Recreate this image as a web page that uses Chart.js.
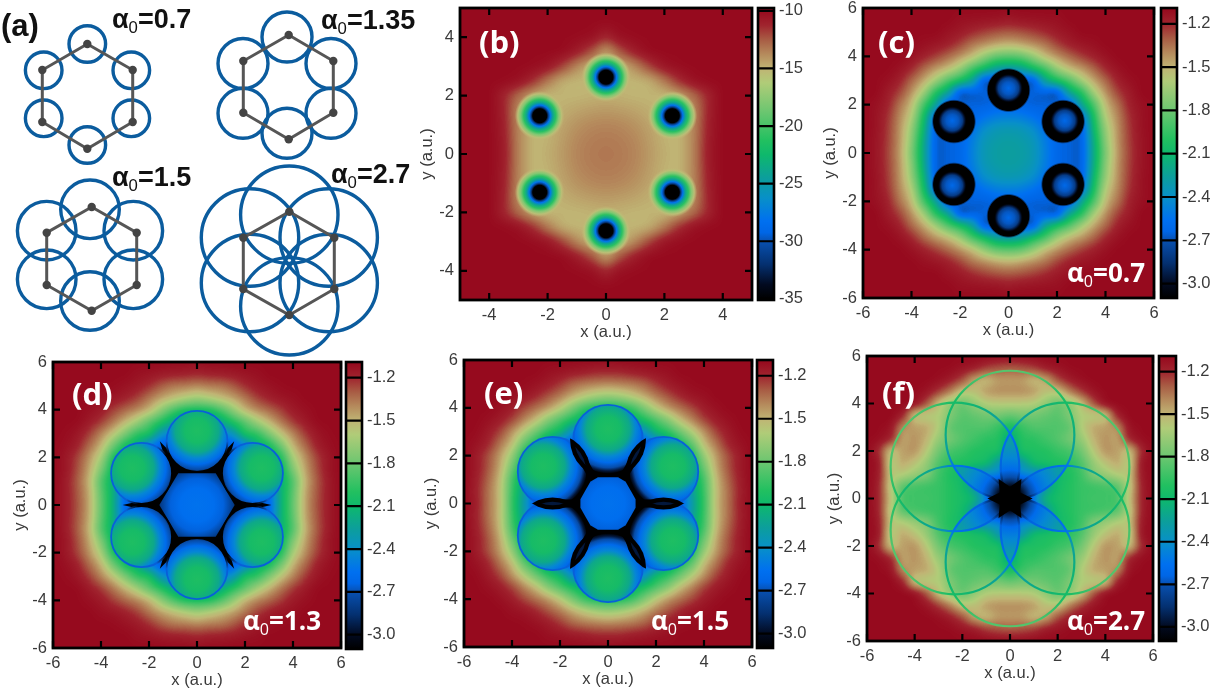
<!DOCTYPE html>
<html>
<head>
<meta charset="utf-8">
<script src="https://cdn.jsdelivr.net/npm/chart.js@4/dist/chart.umd.min.js"></script>
<style>
  body { margin: 0; background: #fff; width: 1214px; height: 688px; position: relative; overflow: hidden; }
  canvas { position: absolute; filter: blur(0.35px); }
  .tag { position: absolute; font-weight: bold; transform: translateY(-50%); white-space: nowrap; line-height: 1; z-index: 5; }
  .tag sub { font-size: 62%; font-weight: normal; vertical-align: -0.3em; line-height: 0; }
  .ink { color: #111; font-family: "Liberation Sans"; font-size: 27px; }
  .white { color: #fff; font-family: "Open Sans"; font-size: 26px; }
  .letter { font-family: "Open Sans"; font-size: 31px; }
</style>
</head>
<body>
<div class="tag ink" style="left:1px;top:25px;font-size:31px">(a)</div>
<div class="tag ink" style="left:112px;top:19px">α<sub>0</sub>=0.7</div>
<div class="tag ink" style="left:321px;top:20px">α<sub>0</sub>=1.35</div>
<div class="tag ink" style="left:112px;top:177px">α<sub>0</sub>=1.5</div>
<div class="tag ink" style="left:331px;top:174px">α<sub>0</sub>=2.7</div>
<div class="tag white letter" style="left:479px;top:41px">(b)</div>
<div class="tag white letter" style="left:878px;top:41px">(c)</div>
<div class="tag white letter" style="left:72px;top:393px">(d)</div>
<div class="tag white letter" style="left:484px;top:392px">(e)</div>
<div class="tag white letter" style="left:882px;top:392px">(f)</div>
<div class="tag white" style="left:1067px;top:272px">α<sub>0</sub>=0.7</div>
<div class="tag white" style="left:243px;top:620px">α<sub>0</sub>=1.3</div>
<div class="tag white" style="left:651px;top:620px">α<sub>0</sub>=1.5</div>
<div class="tag white" style="left:1067px;top:620px">α<sub>0</sub>=2.7</div>
<script>
// colour bar stops, bottom to top
const mapT = [0, 0.05, 0.12, 0.2, 0.23, 0.27, 0.35, 0.42, 0.5, 0.55, 0.65, 0.75, 0.8, 0.85, 0.9, 0.95, 1];
const mapC = ["#000000", "#020a20", "#043070", "#0850b0", "#0066e6", "#0070f0", "#0890c8", "#0c9e9c", "#0eb86c", "#22c060",
  "#6cc670", "#b0cc78", "#c0b474", "#b58a5c", "#a85c44", "#a0242e", "#960a1e"];

const potentialTicks = [-3, -2.7, -2.4, -2.1, -1.8, -1.5, -1.2];
const totalTicks = [-35, -30, -25, -20, -15, -10];
const axisTicksB = [-4, -2, 0, 2, 4];
const axisTicks = [-6, -4, -2, 0, 2, 4, 6];

// panel (a): drawn in diagram units
const atomX = [
  [87.3, 132.7, 132.7, 87.3, 42.3, 42.3],
  [288.7, 333.3, 333.3, 288.7, 243.3, 243.3],
  [91.7, 136.7, 136.7, 91.7, 46.7, 46.7],
  [289.3, 334.3, 334.3, 289.3, 243.3, 243.3]];
const atomY = [
  [44, 70, 122, 148.7, 122, 70],
  [35, 61, 112.7, 139.3, 112.7, 61],
  [207, 232.7, 285, 310.7, 285, 232.7],
  [211.7, 237.7, 289, 315, 289, 237.7]];
const orbitX = [
  [87.3, 131.3, 131.3, 87.3, 43.7, 43.7],
  [287, 331, 331, 287, 243, 243],
  [90, 133.3, 133.3, 90, 46.7, 46.7],
  [289.3, 328.7, 328.7, 289.3, 250, 250]];
const orbitY = [
  [44, 70.3, 118.3, 145, 118.3, 70.3],
  [37, 63.5, 113.3, 133.3, 113.3, 63.5],
  [209.3, 230.7, 279.3, 301, 279.3, 230.7],
  [214.7, 237.5, 283, 306.3, 283, 237.5]];
const orbitR = [18.3, 25, 29.3, 48.7];

// quadrants x = 0, 0.5, ... and y = 0, 0.5, ... (rows go upward), picture is mirror symmetric
const fieldB = [
  [-13.2, -13.3, -13.6, -14.2, -14.8, -15, -13.5, -10.9, -10, -10, -10],
  [-13.3, -13.4, -13.7, -14.3, -14.9, -15, -13.5, -11, -10, -10, -10],
  [-13.6, -13.7, -14, -14.5, -15, -15, -13.6, -11.1, -10, -10, -10],
  [-14.2, -14.3, -14.5, -14.8, -15, -15, -13.7, -11.2, -10, -10, -10],
  [-14.8, -14.9, -15, -15, -15, -14.3, -12.8, -11.2, -10, -10, -10],
  [-15, -15, -15, -14.6, -13.2, -11.6, -10.5, -10.1, -10, -10, -10],
  [-15, -14.8, -13.6, -12, -10.7, -10.2, -10, -10, -10, -10, -10],
  [-14.1, -12.4, -11, -10.2, -10, -10, -10, -10, -10, -10, -10],
  [-11.3, -10.4, -10.05, -10, -10, -10, -10, -10, -10, -10, -10],
  [-10.1, -10, -10, -10, -10, -10, -10, -10, -10, -10, -10],
  [-10, -10, -10, -10, -10, -10, -10, -10, -10, -10, -10]];
const fieldC = [
  [-2.27, -2.28, -2.33, -2.48, -2.62, -2.65, -2.65, -2.2, -1.75, -1.43, -1.25, -1.14, -1.1],
  [-2.28, -2.29, -2.35, -2.5, -2.63, -2.65, -2.65, -2.18, -1.72, -1.42, -1.24, -1.14, -1.1],
  [-2.33, -2.35, -2.42, -2.55, -2.65, -2.65, -2.65, -2.12, -1.68, -1.41, -1.23, -1.13, -1.1],
  [-2.48, -2.5, -2.55, -2.62, -2.65, -2.65, -2.55, -2.05, -1.6, -1.39, -1.22, -1.13, -1.1],
  [-2.62, -2.63, -2.65, -2.65, -2.65, -2.65, -2.25, -1.9, -1.52, -1.34, -1.19, -1.12, -1.1],
  [-2.65, -2.65, -2.65, -2.65, -2.65, -2.25, -2, -1.66, -1.42, -1.26, -1.16, -1.1, -1.1],
  [-2.65, -2.65, -2.65, -2.25, -2.05, -1.88, -1.66, -1.47, -1.32, -1.19, -1.12, -1.1, -1.1],
  [-2.3, -2.25, -2.08, -1.9, -1.67, -1.52, -1.43, -1.32, -1.2, -1.13, -1.1, -1.1, -1.1],
  [-1.85, -1.82, -1.7, -1.53, -1.42, -1.33, -1.25, -1.19, -1.13, -1.1, -1.1, -1.1, -1.1],
  [-1.5, -1.47, -1.41, -1.35, -1.26, -1.19, -1.15, -1.12, -1.1, -1.1, -1.1, -1.1, -1.1],
  [-1.3, -1.28, -1.25, -1.21, -1.16, -1.13, -1.1, -1.1, -1.1, -1.1, -1.1, -1.1, -1.1],
  [-1.16, -1.15, -1.14, -1.13, -1.12, -1.1, -1.1, -1.1, -1.1, -1.1, -1.1, -1.1, -1.1],
  [-1.11, -1.1, -1.1, -1.1, -1.1, -1.1, -1.1, -1.1, -1.1, -1.1, -1.1, -1.1, -1.1]];
const fieldD = [
  [-2.55, -2.56, -2.6, -2.65, -2.65, -2.65, -2.62, -2.15, -1.82, -1.47, -1.28, -1.16, -1.1],
  [-2.56, -2.57, -2.6, -2.65, -2.65, -2.65, -2.6, -2.15, -1.84, -1.48, -1.29, -1.16, -1.1],
  [-2.6, -2.6, -2.62, -2.65, -2.65, -2.65, -2.58, -2.15, -1.86, -1.5, -1.3, -1.16, -1.1],
  [-2.65, -2.65, -2.65, -2.65, -2.65, -2.65, -2.45, -2.1, -1.75, -1.46, -1.27, -1.15, -1.1],
  [-2.65, -2.65, -2.65, -2.65, -2.65, -2.55, -2.2, -2, -1.63, -1.41, -1.25, -1.15, -1.1],
  [-2.65, -2.65, -2.65, -2.65, -2.45, -2.2, -2.03, -1.78, -1.5, -1.33, -1.19, -1.12, -1.1],
  [-2.65, -2.65, -2.5, -2.35, -2.05, -1.95, -1.75, -1.55, -1.38, -1.24, -1.15, -1.11, -1.1],
  [-2.6, -2.45, -2.2, -2, -1.83, -1.65, -1.5, -1.36, -1.24, -1.16, -1.11, -1.1, -1.1],
  [-2.03, -2, -1.88, -1.7, -1.51, -1.4, -1.32, -1.24, -1.16, -1.12, -1.1, -1.1, -1.1],
  [-1.65, -1.6, -1.53, -1.45, -1.35, -1.25, -1.19, -1.15, -1.12, -1.1, -1.1, -1.1, -1.1],
  [-1.39, -1.37, -1.35, -1.3, -1.22, -1.16, -1.13, -1.11, -1.1, -1.1, -1.1, -1.1, -1.1],
  [-1.2, -1.19, -1.18, -1.16, -1.14, -1.12, -1.1, -1.1, -1.1, -1.1, -1.1, -1.1, -1.1],
  [-1.12, -1.11, -1.11, -1.1, -1.1, -1.1, -1.1, -1.1, -1.1, -1.1, -1.1, -1.1, -1.1]];
const fieldE = [
  [-2.55, -2.56, -2.6, -2.65, -2.65, -2.65, -2.65, -2.3, -1.95, -1.53, -1.34, -1.18, -1.11],
  [-2.56, -2.57, -2.6, -2.65, -2.65, -2.65, -2.65, -2.28, -1.93, -1.54, -1.34, -1.19, -1.11],
  [-2.6, -2.6, -2.62, -2.65, -2.65, -2.65, -2.6, -2.22, -1.9, -1.52, -1.32, -1.18, -1.1],
  [-2.65, -2.65, -2.65, -2.65, -2.65, -2.65, -2.5, -2.12, -1.8, -1.48, -1.29, -1.16, -1.1],
  [-2.65, -2.65, -2.65, -2.65, -2.65, -2.6, -2.3, -2.03, -1.68, -1.44, -1.27, -1.16, -1.1],
  [-2.65, -2.65, -2.65, -2.65, -2.55, -2.28, -2.05, -1.83, -1.53, -1.35, -1.2, -1.13, -1.1],
  [-2.65, -2.65, -2.55, -2.4, -2.12, -1.98, -1.8, -1.6, -1.41, -1.26, -1.16, -1.11, -1.1],
  [-2.6, -2.45, -2.2, -2.03, -1.88, -1.72, -1.53, -1.39, -1.26, -1.17, -1.12, -1.1, -1.1],
  [-2.05, -2.02, -1.92, -1.75, -1.57, -1.44, -1.34, -1.26, -1.17, -1.12, -1.1, -1.1, -1.1],
  [-1.67, -1.64, -1.57, -1.48, -1.37, -1.28, -1.2, -1.15, -1.12, -1.1, -1.1, -1.1, -1.1],
  [-1.4, -1.38, -1.36, -1.31, -1.23, -1.17, -1.13, -1.11, -1.1, -1.1, -1.1, -1.1, -1.1],
  [-1.2, -1.2, -1.18, -1.16, -1.14, -1.12, -1.1, -1.1, -1.1, -1.1, -1.1, -1.1, -1.1],
  [-1.12, -1.11, -1.11, -1.1, -1.1, -1.1, -1.1, -1.1, -1.1, -1.1, -1.1, -1.1, -1.1]];
const fieldF = [
  [-3.1, -3.1, -2.5, -2.15, -2.05, -2, -1.95, -1.92, -1.92, -1.9, -1.55, -1.2, -1.1],
  [-3, -3, -2.7, -2.3, -2.08, -2, -1.95, -1.92, -1.9, -1.85, -1.58, -1.2, -1.1],
  [-2.7, -2.5, -2.45, -2.35, -2.1, -2.02, -1.92, -1.75, -1.68, -1.6, -1.55, -1.18, -1.1],
  [-2.45, -2.3, -2.1, -2.05, -2.02, -1.98, -1.88, -1.68, -1.55, -1.48, -1.58, -1.17, -1.1],
  [-2.3, -2.05, -2.02, -2, -1.95, -1.9, -1.78, -1.58, -1.43, -1.45, -1.52, -1.22, -1.1],
  [-2.2, -2, -1.98, -1.92, -1.87, -1.78, -1.68, -1.5, -1.42, -1.45, -1.22, -1.12, -1.1],
  [-2.05, -1.95, -1.88, -1.88, -1.88, -1.82, -1.6, -1.48, -1.45, -1.4, -1.15, -1.1, -1.1],
  [-1.82, -1.78, -1.78, -1.82, -1.85, -1.75, -1.6, -1.58, -1.52, -1.2, -1.1, -1.1, -1.1],
  [-1.58, -1.58, -1.6, -1.7, -1.8, -1.7, -1.52, -1.3, -1.15, -1.1, -1.1, -1.1, -1.1],
  [-1.42, -1.42, -1.45, -1.55, -1.55, -1.38, -1.25, -1.15, -1.1, -1.1, -1.1, -1.1, -1.1],
  [-1.43, -1.44, -1.5, -1.45, -1.28, -1.18, -1.12, -1.1, -1.1, -1.1, -1.1, -1.1, -1.1],
  [-1.3, -1.28, -1.25, -1.18, -1.14, -1.11, -1.1, -1.1, -1.1, -1.1, -1.1, -1.1, -1.1],
  [-1.13, -1.12, -1.11, -1.1, -1.1, -1.1, -1.1, -1.1, -1.1, -1.1, -1.1, -1.1, -1.1]];

// atom wells, panel (b)
const wellBX = [0, 2.27, 2.27, 0, -2.27, -2.27];
const wellBY = [2.63, 1.31, -1.31, -2.63, -1.31, 1.31];
const wellRadius = [0, 0.24, 0.3, 0.36, 0.45, 0.55, 0.65, 0.75, 0.85];
const wellValue = [-35, -35, -31, -28, -24, -21, -18, -15.5, -15];

// panel (c): black shell and the blue core inside it
const shellCX = [0, 2.25, 2.25, 0, -2.25, -2.25];
const shellCY = [2.6, 1.3, -1.3, -2.6, -1.3, 1.3];
const coreCX = [0, 2.32, 2.32, 0, -2.32, -2.32];
const coreCY = [2.68, 1.34, -1.34, -2.68, -1.34, 1.34];
const coreR = [0, 0.25, 0.42, 0.52, 0.6];
const coreV = [-2.62, -2.68, -2.8, -2.98, -3.1];

// panels (d), (e), (f): orbit centres, black web under the discs, central hexagon
const discX = [0, 2.31, 2.31, 0, -2.31, -2.31];
const discY = [2.67, 1.33, -1.33, -2.67, -1.33, 1.33];
const webDX = [3.1, 2.55, 2.3, 1.73, 1.32, 1.39, 1.55, 1.16, 0.98, 0];
const webDY = [0, 0.13, 0.2, 1, 1.89, 2.14, 2.68, 2.27, 2.09, 2];
const webEX = [2.7, 2.3, 1.73, 1.2, 1.35, 1.05, 0];
const webEY = [0, 0.2, 1, 2.05, 2.34, 2.1, 2];
const hexDX = [1.57, 0.78, -0.78, -1.57, -0.78, 0.78];
const hexDY = [0, 1.33, 1.33, 0, -1.33, -1.33];
const hexEX = [1.25, 0.63, -0.63, -1.25, -0.63, 0.63];
const hexEY = [0, 1.1, 1.1, 0, -1.1, -1.1];
const hexR = [0, 0.7, 1.1, 1.6];
const hexV = [-2.55, -2.58, -2.65, -2.85];
const spokeEX = [[1.15, 2.6], [0.58, 1.3], [-0.58, -1.3], [-1.15, -2.6], [-0.58, -1.3], [0.58, 1.3]];
const spokeEY = [[0, 0], [1, 2.25], [1, 2.25], [0, 0], [-1, -2.25], [-1, -2.25]];
const discProfileR = [0, 0.5, 0.9, 1.15, 1.4, 1.62, 1.75, 1.85];
const discProfileV = [-2.02, -2.06, -2.2, -2.45, -2.6, -2.72, -2.95, -3.08];
const starX = [0.95, 0.43, 0.48, 0, -0.48, -0.43, -0.95, -0.43, -0.48, 0, 0.48, 0.43];
const starY = [0, 0.25, 0.82, 0.5, 0.82, 0.25, 0, -0.25, -0.82, -0.5, -0.82, -0.25];
const petalR = [0, 0.5, 0.9, 1.2, 1.7, 2.3, 2.8];
const petalV = [-3.1, -3.05, -2.72, -2.6, -2.45, -2.3, -2.25];
const ringFR = [0, 0.8, 1.2, 2.7, 3.2, 4, 4.7, 5.4];
const ringFV = [-3.1, -2.9, -2.65, -2.55, -2.3, -2.15, -2.05, -1.85];

const potRange = [-3.1, -1.1];
const totRange = [-35, -10];
const tickFont = { family: "Liberation Sans", size: 16.5 };
const textColor = "#3a3a3a";

function hexRgb(h) { return [1, 3, 5].map(i => parseInt(h.slice(i, i + 2), 16)); }
const mapRgb = mapC.map(hexRgb);
function rgbAt(t) {
  t = Math.min(1, Math.max(0, t));
  let i = 0;
  while (i < mapT.length - 2 && t > mapT[i + 1]) i++;
  const f = (t - mapT[i]) / (mapT[i + 1] - mapT[i]);
  return mapRgb[i].map((c, k) => Math.round(c + (mapRgb[i + 1][k] - c) * f));
}
function colorOf(v, range, alpha) {
  const c = rgbAt((v - range[0]) / (range[1] - range[0]));
  return "rgba(" + c.join(",") + "," + (alpha === undefined ? 1 : alpha) + ")";
}
const ppu = chart => chart.scales.x.getPixelForValue(1) - chart.scales.x.getPixelForValue(0);
const px = (chart, p) => ({ x: chart.scales.x.getPixelForValue(p.x), y: chart.scales.y.getPixelForValue(p.y) });

// radial gradient from a list of radii (a.u.) and values
function radial(chart, c, rs, vs, range, fade) {
  const R = rs[rs.length - 1] * ppu(chart);
  const g = chart.ctx.createRadialGradient(c.x, c.y, 0, c.x, c.y, R);
  rs.forEach((r, i) => {
    const a = fade && i === rs.length - 1 ? 0 : 1;
    g.addColorStop(r / rs[rs.length - 1], colorOf(vs[i], range, a));
  });
  return g;
}

function mirrorCells(q, step) {
  const cells = [], n = q.length - 1;
  for (let j = -n; j <= n; j++)
    for (let i = -n; i <= n; i++)
      cells.push({ x: i * step, y: j * step, v: q[Math.abs(j)][Math.abs(i)] });
  return cells;
}

function drawHeat(chart, cells, range) {
  const a = chart.chartArea, n = Math.round(Math.sqrt(cells.length));
  const step = cells[1].x - cells[0].x;
  const small = document.createElement("canvas");
  small.width = small.height = n;
  const sc = small.getContext("2d");
  const img = sc.createImageData(n, n);
  cells.forEach((c, k) => {
    const col = k % n, row = n - 1 - Math.floor(k / n);
    const g = Math.round(255 * (c.v - range[0]) / (range[1] - range[0]));
    const o = (row * n + col) * 4;
    img.data[o] = img.data[o + 1] = img.data[o + 2] = Math.max(0, Math.min(255, g));
    img.data[o + 3] = 255;
  });
  sc.putImageData(img, 0, 0);
  const first = px(chart, { x: cells[0].x - step / 2, y: cells[n * n - 1].y + step / 2 });
  const last = px(chart, { x: cells[n - 1].x + step / 2, y: cells[0].y - step / 2 });
  const W = Math.ceil(a.right - a.left), H = Math.ceil(a.bottom - a.top);
  const big = document.createElement("canvas");
  big.width = W; big.height = H;
  const bc = big.getContext("2d");
  bc.imageSmoothingEnabled = true;
  bc.imageSmoothingQuality = "high";
  bc.drawImage(small, first.x - a.left, first.y - a.top, last.x - first.x, last.y - first.y);
  const out = bc.getImageData(0, 0, W, H);
  for (let i = 0; i < out.data.length; i += 4) {
    const c = rgbAt(out.data[i] / 255);
    out.data[i] = c[0]; out.data[i + 1] = c[1]; out.data[i + 2] = c[2]; out.data[i + 3] = 255;
  }
  bc.putImageData(out, 0, 0);
  chart.ctx.drawImage(big, a.left, a.top);
}

function lens(chart, p, q, r, fill) {
  const ctx = chart.ctx, R = r * ppu(chart), A = px(chart, p), B = px(chart, q);
  ctx.save();
  ctx.beginPath(); ctx.arc(A.x, A.y, R, 0, 7); ctx.clip();
  ctx.beginPath(); ctx.arc(B.x, B.y, R, 0, 7); ctx.clip();
  ctx.fillStyle = fill;
  ctx.fillRect(chart.chartArea.left, chart.chartArea.top, chart.width, chart.height);
  ctx.restore();
}

function polygon(chart, xs, ys, fill) {
  const ctx = chart.ctx;
  ctx.fillStyle = fill;
  ctx.beginPath();
  xs.forEach((x, i) => { const p = px(chart, { x: x, y: ys[i] }); ctx.lineTo(p.x, p.y); });
  ctx.closePath();
  ctx.fill();
}

// outline given for the first quadrant, from the +x axis round to the +y axis
function webPolygon(chart, qx, qy, fill) {
  const n = qx.length, rx = [], ry = [];
  for (let i = 0; i < n; i++) { rx.push(qx[i]); ry.push(qy[i]); }
  for (let i = n - 2; i >= 0; i--) { rx.push(-qx[i]); ry.push(qy[i]); }
  for (let i = 1; i < n; i++) { rx.push(-qx[i]); ry.push(-qy[i]); }
  for (let i = n - 2; i > 0; i--) { rx.push(qx[i]); ry.push(-qy[i]); }
  polygon(chart, rx, ry, fill);
}

function panelPlugin(range, ticksAll, under, over) {
  return {
    id: "panel",
    beforeDatasetsDraw(chart) {
      const a = chart.chartArea, ctx = chart.ctx;
      ctx.save();
      ctx.beginPath(); ctx.rect(a.left, a.top, a.right - a.left, a.bottom - a.top); ctx.clip();
      drawHeat(chart, chart.data.datasets.find(d => d.heat).data, range);
      if (under) under(chart);
      ctx.restore();
    },
    afterDatasetsDraw(chart) {
      const a = chart.chartArea, ctx = chart.ctx;
      ctx.save();
      ctx.beginPath(); ctx.rect(a.left, a.top, a.right - a.left, a.bottom - a.top); ctx.clip();
      if (over) over(chart);
      ctx.restore();
      ctx.save();
      ctx.strokeStyle = "#000";
      ctx.lineWidth = 2.2;
      ctx.beginPath();
      ticksAll.forEach(v => {
        const x = chart.scales.x.getPixelForValue(v), y = chart.scales.y.getPixelForValue(v);
        ctx.moveTo(x, a.bottom); ctx.lineTo(x, a.bottom - 7);
        ctx.moveTo(x, a.top); ctx.lineTo(x, a.top + 7);
        ctx.moveTo(a.left, y); ctx.lineTo(a.left + 7, y);
        ctx.moveTo(a.right, y); ctx.lineTo(a.right - 7, y);
      });
      ctx.stroke();
      ctx.lineWidth = 2.8;
      ctx.strokeRect(a.left, a.top, a.right - a.left, a.bottom - a.top);
      ctx.restore();
    }
  };
}

// the controller asks for these options once before layout, when the scales have no size yet
const ready = c => c.raw && c.chart.chartArea;
function circleSet(xs, ys, r, fill, stroke, width) {
  const size = c => (c.chart.chartArea ? r * ppu(c.chart) : 0);
  return {
    data: xs.map((x, i) => ({ x: x, y: ys[i] })),
    pointRadius: size,
    pointHoverRadius: size,
    pointBackgroundColor: fill,
    pointBorderColor: stroke || "rgba(0,0,0,0)",
    pointBorderWidth: width || 0
  };
}
function spokeSets(xs, ys, width) {
  return xs.map((pair, i) => ({
    data: pair.map((x, k) => ({ x: x, y: ys[i][k] })),
    showLine: true, borderColor: "#000", borderWidth: width, pointRadius: 0
  }));
}

function addCanvas(left, top, w, h) {
  const cv = document.createElement("canvas");
  cv.width = w; cv.height = h;
  cv.style.left = left + "px"; cv.style.top = top + "px";
  cv.style.width = w + "px"; cv.style.height = h + "px";
  document.body.appendChild(cv);
  return cv;
}

// tick labels may overhang the plot box, so the fit drops the margins chart.js reserves for them
function fixMargins(s) { s.paddingLeft = s.paddingRight = s.paddingTop = s.paddingBottom = 0; }

function axisOpts(lim, ticks, title, size) {
  return {
    type: "linear", min: -lim, max: lim,
    grid: { display: false, drawTicks: false }, border: { display: false },
    afterBuildTicks: s => { s.ticks = ticks.map(v => ({ value: v })); },
    afterFit: s => { if (s.isHorizontal()) s.height = size; else s.width = size; fixMargins(s); },
    ticks: { font: tickFont, color: textColor, padding: 6, autoSkip: false, maxRotation: 0, callback: v => String(v) },
    title: { display: true, text: title, color: textColor, font: tickFont, padding: { top: 0, bottom: 0 } }
  };
}

function addPanel(box, lim, ticks, cells, range, sets, under, over) {
  const axX = 42, axY = 42, pad = 10;
  const cv = addCanvas(box[0] - axY, box[1] - pad, box[2] - box[0] + axY + pad, box[3] - box[1] + axX + pad);
  const datasets = sets.concat([{ heat: true, data: cells, pointRadius: 0 }]);
  new Chart(cv, {
    type: "scatter",
    data: { datasets: datasets },
    plugins: [panelPlugin(range, ticks, under, over)],
    options: {
      responsive: false, animation: false, events: [],
      layout: { autoPadding: false, padding: { top: pad, right: pad, left: 0, bottom: 0 } },
      plugins: { legend: { display: false }, tooltip: { enabled: false } },
      scales: { x: axisOpts(lim, ticks, "x (a.u.)", axX), y: axisOpts(lim, ticks, "y (a.u.)", axY) }
    }
  });
}

function addBar(box, range, axisMin, axisMax, ticks, digits) {
  const pad = 10, lab = 44;
  const cv = addCanvas(box[0] - 3, box[1] - pad, box[2] - box[0] + 3 + lab, box[3] - box[1] + 2 * pad);
  new Chart(cv, {
    type: "bar",
    data: {
      labels: [""],
      datasets: [{
        data: [[axisMin, axisMax]], barPercentage: 1, categoryPercentage: 1,
        backgroundColor: c => {
          if (!c.chart.chartArea) return "#000";
          const y = c.chart.scales.y;
          const g = c.chart.ctx.createLinearGradient(0, y.getPixelForValue(range[0]), 0, y.getPixelForValue(range[1]));
          mapT.forEach((t, i) => g.addColorStop(t, mapC[i]));
          return g;
        }
      }]
    },
    plugins: [{
      id: "barFrame",
      afterDatasetsDraw(chart) {
        const a = chart.chartArea, ctx = chart.ctx;
        ctx.save();
        ctx.strokeStyle = "#000";
        ctx.lineWidth = 2.2;
        ctx.beginPath();
        ticks.forEach(v => {
          const y = chart.scales.y.getPixelForValue(v);
          ctx.moveTo(a.left, y); ctx.lineTo(a.right, y);
        });
        ctx.stroke();
        ctx.lineWidth = 2.6;
        ctx.strokeRect(a.left, a.top, a.right - a.left, a.bottom - a.top);
        ctx.restore();
      }
    }],
    options: {
      responsive: false, animation: false, events: [],
      layout: { autoPadding: false, padding: { top: pad, bottom: pad, left: 3, right: 0 } },
      plugins: { legend: { display: false }, tooltip: { enabled: false } },
      scales: {
        x: { display: false },
        y: {
          position: "right", min: axisMin, max: axisMax,
          grid: { display: false, drawTicks: false }, border: { display: false },
          afterBuildTicks: s => { s.ticks = ticks.map(v => ({ value: v })); },
          afterFit: s => { s.width = lab; fixMargins(s); },
          ticks: { font: tickFont, color: textColor, padding: 5, autoSkip: false, callback: v => v.toFixed(digits) }
        }
      }
    }
  });
}

// panel (a)
const blueOrbit = "#0b5c9e";
const diagramSets = [];
atomX.forEach((xs, g) => {
  const pts = xs.map((x, i) => ({ x: x, y: atomY[g][i] }));
  diagramSets.push({ data: pts, pointRadius: 4.2, pointBackgroundColor: "#444", pointBorderWidth: 0, order: 1 });
  diagramSets.push({
    data: pts.concat([pts[0]]), showLine: true, borderColor: "#565656", borderWidth: 3, pointRadius: 0, order: 2
  });
  diagramSets.push({
    data: orbitX[g].map((x, i) => ({ x: x, y: orbitY[g][i] })),
    pointRadius: orbitR[g], pointBackgroundColor: "rgba(0,0,0,0)",
    pointBorderColor: blueOrbit, pointBorderWidth: 3.4, order: 3
  });
});
new Chart(addCanvas(0, 0, 412, 360), {
  type: "scatter",
  data: { datasets: diagramSets },
  options: {
    responsive: false, animation: false, events: [],
    layout: { autoPadding: false, padding: 0 },
    plugins: { legend: { display: false }, tooltip: { enabled: false } },
    scales: {
      x: { display: false, min: 0, max: 412 },
      y: { display: false, min: 0, max: 360, reverse: true }
    }
  }
});

// panel (b)
const boxB = [460, 8, 752, 300];
addPanel(boxB, 5, axisTicksB, mirrorCells(fieldB, 0.5), totRange, [
  circleSet(wellBX, wellBY, 0.85, c => ready(c) ? radial(c.chart, px(c.chart, c.raw), wellRadius, wellValue, totRange, true) : "#000")
]);
addBar([758, 8, 774, 300], totRange, -35.1, -9.75, totalTicks, 0);

// panel (c)
const boxC = [863, 8, 1154, 298];
addPanel(boxC, 6, axisTicks, mirrorCells(fieldC, 0.5), potRange, [
  circleSet(coreCX, coreCY, 0.6, c => ready(c) ? radial(c.chart, px(c.chart, c.raw), coreR, coreV, potRange, true) : "#000"),
  circleSet(shellCX, shellCY, 0.92, c => ready(c) ? radial(c.chart, px(c.chart, c.raw), [0, 0.84, 0.92], [-3.1, -3.1, -2.85], potRange, true) : "#000")
]);
addBar([1161, 8, 1177, 298], potRange, -3.1, -1.09, potentialTicks, 1);

// discs of (d) and (e): bright on the outer side, dark towards the ring centre
function discFill(offset) {
  return c => {
    if (!ready(c)) return "#000";
    const len = Math.hypot(c.raw.x, c.raw.y);
    const centre = px(c.chart, { x: c.raw.x * (1 + offset / len), y: c.raw.y * (1 + offset / len) });
    return radial(c.chart, centre, discProfileR, discProfileV, potRange, false);
  };
}
function discRim(r) {
  return c => {
    if (!ready(c)) return "#000";
    const len = Math.hypot(c.raw.x, c.raw.y), ux = c.raw.x / len, uy = c.raw.y / len;
    const A = px(c.chart, { x: c.raw.x - ux * r, y: c.raw.y - uy * r });
    const B = px(c.chart, { x: c.raw.x + ux * r, y: c.raw.y + uy * r });
    const g = c.chart.ctx.createLinearGradient(A.x, A.y, B.x, B.y);
    g.addColorStop(0, "#000");
    g.addColorStop(0.3, "#000");
    g.addColorStop(0.5, "#0860d8");
    g.addColorStop(1, "#0860d8");
    return g;
  };
}
function hexCentre(chart, xs, ys) {
  polygon(chart, xs, ys, radial(chart, px(chart, { x: 0, y: 0 }), hexR, hexV, potRange, false));
}

// panel (d)
addPanel([53, 362, 341, 648], 6, axisTicks, mirrorCells(fieldD, 0.5), potRange, [
  circleSet(discX, discY, 1.27, discFill(0.45), discRim(1.27), 1.8)
], chart => {
  webPolygon(chart, webDX, webDY, "#000");
  hexCentre(chart, hexDX, hexDY);
});
addBar([346, 362, 362, 649], potRange, -3.1, -1.09, potentialTicks, 1);

// panel (e)
addPanel([464, 360, 752, 647], 6, axisTicks, mirrorCells(fieldE, 0.5), potRange, spokeSets(spokeEX, spokeEY, 8).concat([
  circleSet(discX, discY, 1.45, discFill(0.45), discRim(1.45), 1.8)
]), chart => {
  webPolygon(chart, webEX, webEY, "#000");
  hexCentre(chart, hexEX, hexEY);
}, chart => {
  discX.forEach((x, i) => {
    const j = (i + 1) % 6;
    const p = { x: x, y: discY[i] }, q = { x: discX[j], y: discY[j] };
    lens(chart, p, q, 1.58, "#000");
    lens(chart, p, q, 1.4, colorOf(-2.95, potRange));
  });
});
addBar([757, 360, 773, 648], potRange, -3.1, -1.09, potentialTicks, 1);

// panel (f)
addPanel([867, 356, 1153, 641], 6, axisTicks, mirrorCells(fieldF, 0.5), potRange, [
  circleSet(discX, discY, 2.7, "rgba(0,0,0,0)", c => ready(c) ? radial(c.chart, px(c.chart, { x: 0, y: 0 }), ringFR, ringFV, potRange, false) : "#000", 2.2)
], chart => {
  const g = radial(chart, px(chart, { x: 0, y: 0 }), petalR, petalV, potRange, false);
  discX.forEach((x, i) => {
    const j = (i + 2) % 6;
    lens(chart, { x: x, y: discY[i] }, { x: discX[j], y: discY[j] }, 2.7, g);
  });
}, chart => {
  polygon(chart, starX, starY, "#000");
});
addBar([1159, 356, 1176, 641], potRange, -3.1, -1.09, potentialTicks, 1);
</script>
</body>
</html>
